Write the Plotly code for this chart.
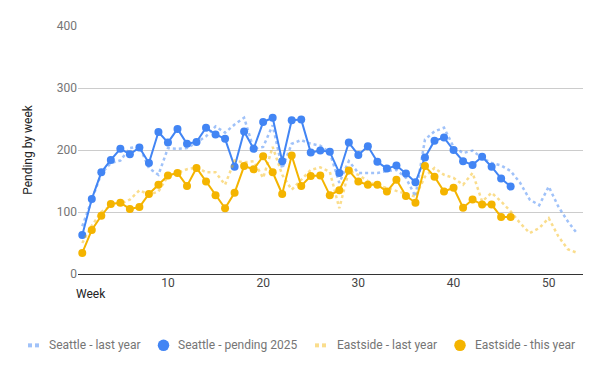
import plotly.graph_objects as go

weeks_last = list(range(1, 54))
weeks_this = list(range(1, 47))

seattle_last_year = [77, 118, 162, 179, 183, 203, 206, 171, 160, 203,
                     202, 203, 212, 222, 238, 228, 241, 252, 202, 205,
                     240, 170, 210, 216, 210, 207, 196, 147, 182, 163,
                     163, 163, 166, 168, 155, 125, 217, 230, 236, 205,
                     195, 199, 187, 179, 175, 166, 147, 120, 111, 141,
                     109, 85, 65]
seattle_pending_2025 = [63, 121, 164, 184, 202, 193, 204, 179, 229, 212,
                        234, 210, 213, 236, 225, 218, 173, 230, 202, 245,
                        252, 182, 248, 249, 196, 199, 197, 163, 212, 192,
                        206, 181, 170, 175, 162, 148, 188, 215, 220, 200,
                        182, 176, 189, 173, 154, 141]
eastside_last_year = [50, 78, 100, 110, 113, 120, 135, 128, 133, 158,
                      163, 169, 172, 164, 164, 144, 183, 180, 182, 155,
                      205, 160, 136, 152, 168, 172, 165, 106, 166, 160,
                      150, 142, 139, 134, 130, 125, 157, 171, 160, 155,
                      144, 163, 117, 131, 117, 101, 82, 66, 74, 90,
                      61, 40, 34]
eastside_this_year = [34, 71, 94, 113, 115, 105, 108, 129, 144, 159,
                      163, 142, 171, 149, 127, 106, 131, 174, 169, 190,
                      164, 129, 191, 142, 158, 159, 127, 135, 167, 149,
                      144, 144, 133, 152, 126, 115, 174, 157, 133, 139,
                      107, 120, 112, 112, 92, 92]

series_names = ["Seattle - last year", "Seattle - pending 2025",
                "Eastside - last year", "Eastside - this year"]
x_ticks = [10, 20, 30, 40, 50]
y_ticks = [0, 100, 200, 300, 400]

BLUE = "#4285F4"
ORANGE = "#F4B400"
LIGHT_BLUE = "rgba(66,133,244,0.5)"
LIGHT_ORANGE = "rgba(244,180,0,0.45)"

# plot-area geometry (pixels)
L, R, T, B = 78, 17, 26, 96.5
W, H = 600, 371
PW, PH = W - L - R, H - T - B


def px(xp):
    return (xp - L) / PW


def py(yp):
    return (H - B - yp) / PH


fig = go.Figure()
fig.add_trace(go.Scatter(x=weeks_last, y=seattle_last_year, mode="lines",
                         name=series_names[0], showlegend=False,
                         line=dict(color=LIGHT_BLUE, width=2.5, dash="dot")))
fig.add_trace(go.Scatter(x=weeks_this, y=seattle_pending_2025, mode="lines+markers",
                         name=series_names[1], showlegend=False,
                         line=dict(color=BLUE, width=2),
                         marker=dict(color=BLUE, size=8)))
fig.add_trace(go.Scatter(x=weeks_last, y=eastside_last_year, mode="lines",
                         name=series_names[2], showlegend=False,
                         line=dict(color=LIGHT_ORANGE, width=2.5, dash="dot")))
fig.add_trace(go.Scatter(x=weeks_this, y=eastside_this_year, mode="lines+markers",
                         name=series_names[3], showlegend=False,
                         line=dict(color=ORANGE, width=2),
                         marker=dict(color=ORANGE, size=8)))

# custom legend (bottom, one row)
leg_y = 346
legend_items = [
    ("squares", LIGHT_BLUE, 28, 48),
    ("circle", BLUE, 163.5, 177),
    ("squares", LIGHT_ORANGE, 315, 336),
    ("circle", ORANGE, 460, 474),
]
shapes = []
annotations = []
for (kind, color, sx, tx), name in zip(legend_items, series_names):
    if kind == "squares":
        for off in (0, 7):
            shapes.append(dict(type="rect", xref="paper", yref="paper",
                               x0=px(sx + off), x1=px(sx + off + 4),
                               y0=py(leg_y + 2), y1=py(leg_y - 2),
                               fillcolor=color, line=dict(width=0)))
    else:
        shapes.append(dict(type="circle", xref="paper", yref="paper",
                           x0=px(sx - 5.75), x1=px(sx + 5.75),
                           y0=py(leg_y + 5.75), y1=py(leg_y - 5.75),
                           fillcolor=color, line=dict(width=0)))
    annotations.append(dict(text=name, x=px(tx), xref="paper", xanchor="left",
                            y=py(leg_y), yref="paper", yanchor="middle",
                            showarrow=False, borderpad=0,
                            font=dict(size=12, color="#757575")))

annotations.append(dict(text="Week", x=px(75), xref="paper", xanchor="left",
                        y=py(287), yref="paper", yanchor="top", showarrow=False,
                        borderpad=0, font=dict(size=12, color="#222222")))

fig.update_layout(
    width=W, height=H,
    margin=dict(l=L, r=R, t=T, b=B, autoexpand=False),
    paper_bgcolor="white", plot_bgcolor="white",
    font=dict(family="Roboto, Arial, sans-serif", size=12, color="#757575"),
    showlegend=False,
    shapes=shapes,
    annotations=annotations,
)
fig.update_xaxes(range=[0.55, 53.6], tickvals=x_ticks, showgrid=False, zeroline=False,
                 showline=False, ticks="", automargin=False,
                 tickfont=dict(size=12, color="#444444"))
fig.update_yaxes(range=[0, 400], tickvals=y_ticks, showgrid=True, gridcolor="#cccccc",
                 gridwidth=1, zeroline=True, zerolinecolor="#333333", zerolinewidth=1,
                 showline=False, ticks="", automargin=False,
                 title=dict(text="Pending by week", font=dict(size=12, color="#222222"),
                            standoff=21),
                 tickfont=dict(size=12, color="#757575"))

fig.write_html("out.html", config={"displayModeBar": False},
               post_script="document.body.style.margin='0';")
